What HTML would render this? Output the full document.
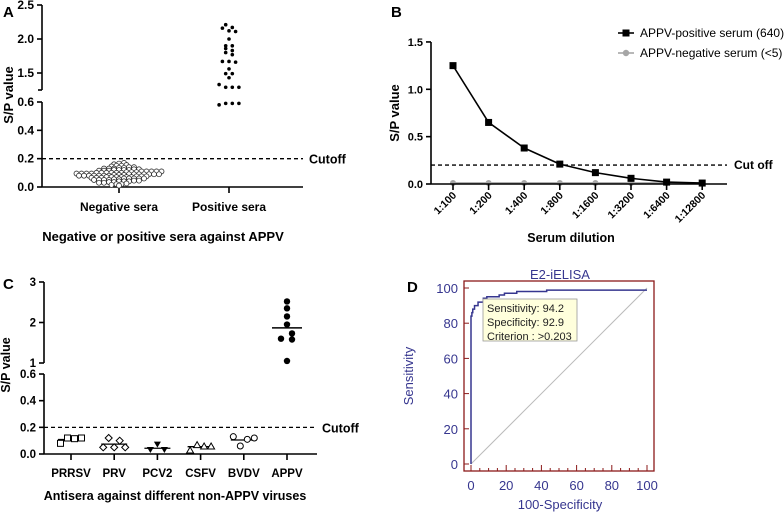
<!DOCTYPE html>
<html><head><meta charset="utf-8"><style>
html,body{margin:0;padding:0;background:#fff;}
svg{display:block;font-family:"Liberation Sans",Arial,sans-serif;}
.b{font-weight:bold;}
</style></head><body>
<svg id="fig" width="784" height="513" viewBox="0 0 784 513" xmlns="http://www.w3.org/2000/svg">
<g id="pA"></g>
<g id="pB"></g>
<g id="pC"></g>
<g id="pD"></g>
</svg>
<script>
// ---- Panel A data ----
const aNegValues = [0.01,0.015,0.02,0.02,0.025,0.03,0.03,0.035,0.035,0.04,0.04,0.04,0.045,0.045,0.05,0.05,0.05,0.05,0.055,0.055,0.06,0.06,0.06,0.06,0.06,0.065,0.065,0.065,0.07,0.07,0.07,0.07,0.07,0.07,0.075,0.075,0.075,0.08,0.08,0.08,0.08,0.08,0.08,0.08,0.085,0.085,0.085,0.09,0.09,0.09,0.09,0.09,0.09,0.09,0.095,0.095,0.095,0.095,0.1,0.1,0.1,0.1,0.1,0.1,0.105,0.105,0.105,0.11,0.11,0.11,0.11,0.11,0.115,0.115,0.115,0.12,0.12,0.12,0.12,0.125,0.125,0.13,0.13,0.13,0.135,0.135,0.14,0.14,0.145,0.15,0.15,0.155,0.16,0.165,0.17];
const aPosValues = [2.21,2.17,2.16,2.12,2.11,2.0,1.9,1.9,1.86,1.83,1.8,1.77,1.67,1.67,1.66,1.56,1.49,1.49,1.43,1.33,1.29,1.29,1.29,0.58,0.59,0.59,0.59];
const aCategories = ["Negative sera","Positive sera"];
const aLowTicks = [0.0,0.2,0.4,0.6];
const aHighTicks = [1.5,2.0,2.5];
const aCutoff = 0.2;
// ---- Panel B data ----
const bCategories = ["1:100","1:200","1:400","1:800","1:1600","1:3200","1:6400","1:12800"];
const bPositive = [1.25,0.65,0.38,0.21,0.12,0.06,0.02,0.01];
const bNegative = [0.01,0.01,0.01,0.01,0.01,0.01,0.01,0.01];
const bTicks = [0.0,0.5,1.0,1.5];
const bCutoff = 0.2;
// ---- Panel C data ----
const cCategories = ["PRRSV","PRV","PCV2","CSFV","BVDV","APPV"];
const cPRRSV = [0.08,0.12,0.115,0.12];
const cPRV = [0.05,0.12,0.05,0.1,0.05];
const cPCV2 = [0.03,0.07,0.03];
const cCSFV = [0.03,0.07,0.06,0.06];
const cBVDV = [0.13,0.06,0.11,0.12];
const cAPPV = [2.52,2.35,2.15,1.95,1.73,1.6,1.58,1.05];
const cLowTicks = [0.0,0.2,0.4,0.6];
const cHighTicks = [1,2,3];
const cCutoff = 0.2;
// ---- Panel D data ----
const dFpr = [0,0,0.5,0.5,1,1,2,2,4,4,7,7,9,9,16,16,19,19,26,26,43,43,100];
const dTpr = [0,84,84,86,86,88,88,90,90,92,92,94.2,94.2,95,95,96,96,97,97,98,98,98.8,98.8];
const dTicks = [0,20,40,60,80,100];

const NS="http://www.w3.org/2000/svg";
function mk(parent,tag,attrs,text){const e=document.createElementNS(NS,tag);for(const k in attrs)e.setAttribute(k,attrs[k]);if(text!==undefined)e.textContent=text;parent.appendChild(e);return e;}
function fmt1(v){return v.toFixed(1);}

// ================= Panel A =================
(function(){
const g=document.getElementById('pA');
const X0=42,X1=303;
const yLow=v=>187-(v/0.6)*(187-102);
const yHigh=v=>39-(v-2.0)*68;
const yA=v=>v>=1.0?yHigh(v):yLow(v);
const xCat=i=>[119,229][i];
let e;
e=mk(g,'text',{x:3,y:17,'font-size':15,class:'b'},'A');


e=mk(g,'line',{x1:X0,y1:yLow(0.6),x2:X0,y2:187,stroke:'#000','stroke-width':1.6});


e=mk(g,'line',{x1:X0,y1:yHigh(2.5),x2:X0,y2:yHigh(1.25),stroke:'#000','stroke-width':1.6});


mk(g,'line',{x1:X0-4,y1:yHigh(1.25),x2:X0,y2:yHigh(1.25),stroke:'#000','stroke-width':1.6});
aLowTicks.forEach(t=>{const y=yLow(t);mk(g,'line',{x1:X0-5,y1:y,x2:X0,y2:y,stroke:'#000','stroke-width':1.6});
e=mk(g,'text',{x:X0-8,y:y+4,'font-size':12,'text-anchor':'end',class:'b'},fmt1(t));

});
aHighTicks.forEach(t=>{const y=yHigh(t);mk(g,'line',{x1:X0-5,y1:y,x2:X0,y2:y,stroke:'#000','stroke-width':1.6});
e=mk(g,'text',{x:X0-8,y:y+4,'font-size':12,'text-anchor':'end',class:'b'},fmt1(t));

});
e=mk(g,'line',{x1:X0,y1:187,x2:X1,y2:187,stroke:'#000','stroke-width':1.6});


aCategories.forEach((c,i)=>{mk(g,'line',{x1:xCat(i),y1:187,x2:xCat(i),y2:193,stroke:'#000','stroke-width':1.6});
e=mk(g,'text',{x:xCat(i),y:211,'font-size':12,'text-anchor':'middle',class:'b'},c);

});
e=mk(g,'line',{x1:X0,y1:yLow(aCutoff),x2:X1,y2:yLow(aCutoff),stroke:'#000','stroke-width':1.3,'stroke-dasharray':'4,3'});


e=mk(g,'text',{x:309,y:yLow(aCutoff)+5,'font-size':12.5,class:'b'},'Cutoff');


e=mk(g,'text',{x:163,y:241,'font-size':13,'text-anchor':'middle',class:'b'},'Negative or positive sera against APPV');


e=mk(g,'text',{x:0,y:0,'font-size':13,'text-anchor':'middle',class:'b',transform:'translate(13,95) rotate(-90)'},'S/P value');


// negative beeswarm
const rowsN={};
aNegValues.forEach(v=>{const k=Math.round(yLow(v)/2.3);(rowsN[k]=rowsN[k]||[]).push(v);});
Object.keys(rowsN).forEach(k=>{const n=rowsN[k].length;rowsN[k].forEach((v,j)=>{const off=(j-(n-1)/2)*5;
e=mk(g,'circle',{cx:xCat(0)+off,cy:yLow(v),r:2.5,fill:'#fff',stroke:'#333','stroke-width':0.8});

});});
// positive
const rowsP={};
aPosValues.forEach(v=>{const k=Math.round(yA(v)/5);(rowsP[k]=rowsP[k]||[]).push(v);});
Object.keys(rowsP).forEach(k=>{const n=rowsP[k].length;rowsP[k].forEach((v,j)=>{const off=(j-(n-1)/2)*6.6;
e=mk(g,'circle',{cx:xCat(1)+off,cy:yA(v),r:1.8,fill:'#000'});

});});
})();

// ================= Panel B =================
(function(){
const g=document.getElementById('pB');
const X0=431,X1=727;
const y=v=>184-v*94.7;
const x=i=>453+i*35.6;
let e;
e=mk(g,'text',{x:391,y:17,'font-size':15,class:'b'},'B');


e=mk(g,'line',{x1:X0,y1:y(1.5),x2:X0,y2:184,stroke:'#000','stroke-width':1.6});


bTicks.forEach(t=>{mk(g,'line',{x1:X0-5,y1:y(t),x2:X0,y2:y(t),stroke:'#000','stroke-width':1.6});
e=mk(g,'text',{x:X0-8,y:y(t)+4,'font-size':11,'text-anchor':'end',class:'b'},fmt1(t));

});
e=mk(g,'text',{x:0,y:0,'font-size':13,'text-anchor':'middle',class:'b',transform:'translate(399,113) rotate(-90)'},'S/P value');


e=mk(g,'line',{x1:X0,y1:y(bCutoff),x2:X1,y2:y(bCutoff),stroke:'#000','stroke-width':1.3,'stroke-dasharray':'4,3'});


e=mk(g,'text',{x:734,y:y(bCutoff)+4,'font-size':12,class:'b'},'Cut off');


e=mk(g,'polyline',{points:bNegative.map((v,i)=>x(i)+','+y(v)).join(' '),fill:'none',stroke:'#999','stroke-width':1.6});


bNegative.forEach((v,i)=>{e=mk(g,'circle',{cx:x(i),cy:y(v),r:3,fill:'#a6a6a6'});

});
e=mk(g,'line',{x1:X0,y1:184,x2:X1,y2:184,stroke:'#000','stroke-width':1.6});


e=mk(g,'polyline',{points:bPositive.map((v,i)=>x(i)+','+y(v)).join(' '),fill:'none',stroke:'#000','stroke-width':1.6,'stroke-linejoin':'round'});


bPositive.forEach((v,i)=>{e=mk(g,'rect',{x:x(i)-3.5,y:y(v)-3.5,width:7,height:7,fill:'#000'});

});
bCategories.forEach((c,i)=>{mk(g,'line',{x1:x(i),y1:184,x2:x(i),y2:190,stroke:'#000','stroke-width':1.6});
e=mk(g,'text',{x:0,y:0,'font-size':10.5,'text-anchor':'end',class:'b',transform:`translate(${x(i)+4},${196}) rotate(-45)`},c);

});
e=mk(g,'text',{x:571,y:242,'font-size':12.5,'text-anchor':'middle',class:'b'},'Serum dilution');


mk(g,'line',{x1:618,y1:33,x2:634,y2:33,stroke:'#000','stroke-width':1.6});
e=mk(g,'rect',{x:622.5,y:29.5,width:7,height:7,fill:'#000'});


e=mk(g,'text',{x:640,y:37,'font-size':12},'APPV-positive serum (640)');


mk(g,'line',{x1:618,y1:53,x2:634,y2:53,stroke:'#a6a6a6','stroke-width':1.6});
e=mk(g,'circle',{cx:626,cy:53,r:3.2,fill:'#a6a6a6'});


e=mk(g,'text',{x:640,y:57,'font-size':12},'APPV-negative serum (<5)');


})();

// ================= Panel C =================
(function(){
const g=document.getElementById('pC');
const X0=44,X1=317;
const yLow=v=>454-v*133.3;
const yHigh=v=>363-(v-1)*40.5;
const yC=v=>v>=0.9?yHigh(v):yLow(v);
const xCat=i=>71+i*43.2;
let e;
e=mk(g,'text',{x:3,y:289,'font-size':15,class:'b'},'C');


e=mk(g,'line',{x1:X0,y1:yLow(0.6),x2:X0,y2:454,stroke:'#000','stroke-width':1.6});


e=mk(g,'line',{x1:X0,y1:yHigh(3),x2:X0,y2:yHigh(1),stroke:'#000','stroke-width':1.6});


cLowTicks.forEach(t=>{mk(g,'line',{x1:X0-5,y1:yLow(t),x2:X0,y2:yLow(t),stroke:'#000','stroke-width':1.6});
e=mk(g,'text',{x:X0-8,y:yLow(t)+4,'font-size':11.5,'text-anchor':'end',class:'b'},fmt1(t));

});
cHighTicks.forEach(t=>{mk(g,'line',{x1:X0-5,y1:yHigh(t),x2:X0,y2:yHigh(t),stroke:'#000','stroke-width':1.6});
e=mk(g,'text',{x:X0-8,y:yHigh(t)+4,'font-size':11.5,'text-anchor':'end',class:'b'},String(t));

});
e=mk(g,'text',{x:0,y:0,'font-size':12.5,'text-anchor':'middle',class:'b',transform:'translate(10,365) rotate(-90)'},'S/P value');


e=mk(g,'line',{x1:X0,y1:454,x2:X1,y2:454,stroke:'#000','stroke-width':1.6});


cCategories.forEach((c,i)=>{mk(g,'line',{x1:xCat(i),y1:454,x2:xCat(i),y2:460,stroke:'#000','stroke-width':1.6});
e=mk(g,'text',{x:xCat(i),y:477,'font-size':11.5,'text-anchor':'middle',class:'b'},c);

});
e=mk(g,'line',{x1:X0,y1:yLow(cCutoff),x2:X1,y2:yLow(cCutoff),stroke:'#000','stroke-width':1.3,'stroke-dasharray':'4,3'});


e=mk(g,'text',{x:322,y:yLow(cCutoff)+5,'font-size':12.5,class:'b'},'Cutoff');


e=mk(g,'text',{x:175,y:500,'font-size':12.5,'text-anchor':'middle',class:'b'},'Antisera against different non-APPV viruses');


const series=[cPRRSV,cPRV,cPCV2,cCSFV,cBVDV,cAPPV];
const names=['prrsv','prv','pcv2','csfv','bvdv','appv'];
series.forEach((vals,i)=>{
 const mean=vals.reduce((a,b)=>a+b,0)/vals.length;
 const cx=xCat(i);
 if(i<5){e=mk(g,'line',{x1:cx-13,y1:yLow(mean),x2:cx+13,y2:yLow(mean),stroke:'#000','stroke-width':1.3});}
 else{e=mk(g,'line',{x1:cx-15,y1:yC(mean),x2:cx+15,y2:yC(mean),stroke:'#000','stroke-width':1.5});}
 
 
 const n=vals.length;
 vals.forEach((v,j)=>{
  let px, py=yC(v);
  if(i<5){px=cx+(j-(n-1)/2)*(n===5?5.5:7);}
  else{const rk=vals.slice().sort((a,b)=>b-a).indexOf(v);px=cx+([0,0,0,0,5,-6,5,0][rk]);}
  if(i===0) e=mk(g,'rect',{x:px-3,y:py-3,width:6,height:6,fill:'#fff',stroke:'#000','stroke-width':1});
  else if(i===1) e=mk(g,'polygon',{points:`${px},${py-3.5} ${px+3.5},${py} ${px},${py+3.5} ${px-3.5},${py}`,fill:'#fff',stroke:'#000','stroke-width':1});
  else if(i===2) e=mk(g,'polygon',{points:`${px-3.5},${py-3} ${px+3.5},${py-3} ${px},${py+3}`,fill:'#000'});
  else if(i===3) e=mk(g,'polygon',{points:`${px-3.5},${py+3} ${px+3.5},${py+3} ${px},${py-3}`,fill:'#fff',stroke:'#000','stroke-width':1});
  else if(i===4) e=mk(g,'circle',{cx:px,cy:py,r:3,fill:'#fff',stroke:'#000','stroke-width':1});
  else e=mk(g,'circle',{cx:px,cy:py,r:3.2,fill:'#000'});
  
  
 });
});
})();

// ================= Panel D =================
(function(){
const g=document.getElementById('pD');
const blue='#36368f';
const x=v=>471+v*1.76;
const y=v=>464-v*1.76;
let e;
e=mk(g,'text',{x:560,y:279,'font-size':13,'text-anchor':'middle',fill:blue},'E2-iELISA');


e=mk(g,'text',{x:407,y:292,'font-size':15,class:'b'},'D');


e=mk(g,'rect',{x:464,y:281,width:190,height:190,fill:'#fff',stroke:'#8b1a1a','stroke-width':1.3});


e=mk(g,'line',{x1:x(0),y1:y(0),x2:x(100),y2:y(100),stroke:'#bbb','stroke-width':1});


dTicks.forEach(t=>{
 mk(g,'line',{x1:464,y1:y(t),x2:469,y2:y(t),stroke:'#8b1a1a','stroke-width':1});
 e=mk(g,'text',{x:458,y:y(t)+5,'font-size':13,'text-anchor':'end',fill:blue},String(t));
 
 
 mk(g,'line',{x1:x(t),y1:471,x2:x(t),y2:465,stroke:'#8b1a1a','stroke-width':1});
 e=mk(g,'text',{x:x(t),y:490,'font-size':13,'text-anchor':'middle',fill:blue},String(t));
 
 
});
for(let t=5;t<100;t+=5){if(t%20)mk(g,'line',{x1:x(t),y1:471,x2:x(t),y2:468,stroke:'#8b1a1a','stroke-width':1});}
e=mk(g,'polyline',{points:dFpr.map((f,i)=>x(f)+','+y(dTpr[i])).join(' '),fill:'none',stroke:blue,'stroke-width':1.5});


e=mk(g,'text',{x:560,y:509,'font-size':13,'text-anchor':'middle',fill:blue},'100-Specificity');


e=mk(g,'text',{x:0,y:0,'font-size':13,'text-anchor':'middle',fill:blue,transform:'translate(413,376) rotate(-90)'},'Sensitivity');


e=mk(g,'rect',{x:483,y:299,width:94,height:42,fill:'#ffffdc',stroke:'#999','stroke-width':0.8});


[['Sensitivity: 94.2',312],['Specificity: 92.9',326],['Criterion : >0.203',340]].forEach(([t,yy])=>{
 e=mk(g,'text',{x:487,y:yy,'font-size':11,fill:'#222'},t);
 
 
});
})();
</script>
</body></html>
